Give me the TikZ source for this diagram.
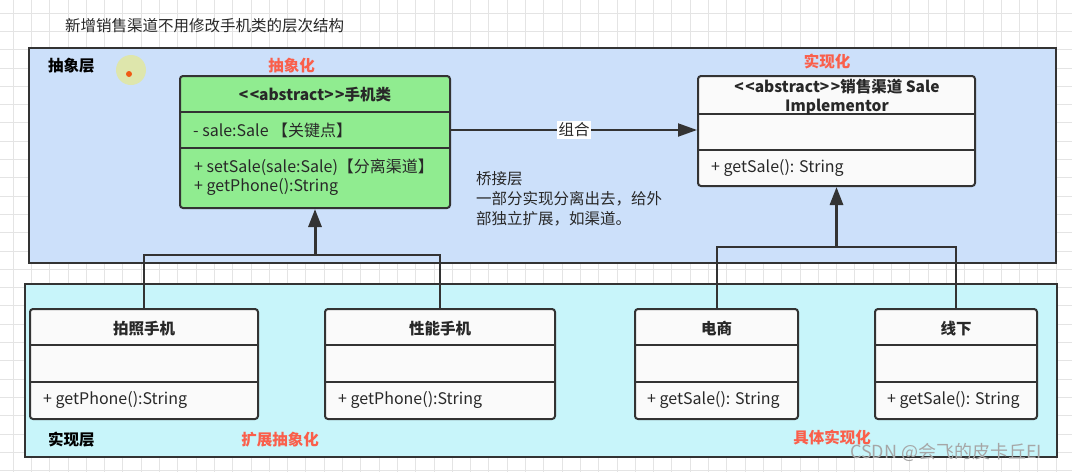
\documentclass[tikz,border=0pt]{standalone}
\usepackage{fontspec}
\setmainfont{Noto Sans CJK SC}
\usetikzlibrary{arrows.meta,calc}
\definecolor{bluebg}{RGB}{204,224,250}
\definecolor{cyanbg}{RGB}{200,245,250}
\definecolor{greenbg}{RGB}{144,236,144}
\definecolor{edge}{RGB}{51,51,51}
\definecolor{redlbl}{RGB}{250,95,75}
\definecolor{gridc}{RGB}{228,228,228}
\definecolor{boxw}{RGB}{250,250,250}
\definecolor{halo}{RGB}{222,230,172}
\definecolor{dotc}{RGB}{240,90,20}
\definecolor{txtc}{RGB}{40,40,40}
\newcommand{\lsym}{{<}\hspace{1.5pt}{<}}
\newcommand{\rsym}{{>}\hspace{1.5pt}{>}}
\begin{document}
\begin{tikzpicture}[x=1pt,y=-1pt,
  layerbox/.style={draw=edge,line width=2pt},
  cls/.style={draw=edge,line width=2pt,rounded corners=3pt,inner sep=0pt},
  sepline/.style={draw=edge,line width=2pt},
  txt/.style={inner sep=0pt,font=\fontsize{16}{18}\selectfont,text=txtc},
  ttl/.style={inner sep=0pt,font=\fontsize{15.5}{18}\selectfont\bfseries,text=txtc},
  lbl/.style={inner sep=0pt,font=\fontsize{15.5}{18}\selectfont\bfseries,text=black},
  redl/.style={inner sep=0pt,font=\fontsize{15.5}{18}\selectfont\bfseries,text=redlbl},
  conn/.style={draw=edge,line width=2pt},
  inh/.style={draw=edge,line width=3pt,-{Triangle[length=18pt,width=13pt]}},
  comp/.style={draw=edge,line width=2pt,-{Triangle[length=19pt,width=13pt]}}
]
\useasboundingbox (0,0) rectangle (1072,472);
\fill[white] (0,0) rectangle (1072,472);
% grid
\foreach \i in {0,...,58}{\draw[gridc,line width=0.8pt] ({13+18.3*\i},0) -- ({13+18.3*\i},472);}
\foreach \i in {0,...,25}{\draw[gridc,line width=0.8pt] (0,{13+18.3*\i}) -- (1072,{13+18.3*\i});}

% title
\node[inner sep=0pt,anchor=west,font=\fontsize{15.5}{18}\selectfont,text=txtc] (title) at (65,26) {新增销售渠道不用修改手机类的层次结构};

% layers
\node[layerbox,fill=bluebg,minimum width=1027pt,minimum height=215pt,inner sep=0pt] (abslayer) at (542.5,155.5) {};
\node[layerbox,fill=cyanbg,minimum width=1032pt,minimum height=173pt,inner sep=0pt] (implayer) at (541,370.5) {};

\node[lbl,anchor=west] (absname) at (48,66) {抽象层};
\node[lbl,anchor=west] (impname) at (48,440) {实现层};
\fill[halo] (131,70) circle (15);
\fill[dotc] (129,74) circle (3);

\node[redl] (r1) at (291.5,66) {抽象化};
\node[redl] (r2) at (827,61) {实现化};
\node[redl] (r3) at (280,440) {扩展抽象化};
\node[redl] (r4) at (832,437) {具体实现化};

% bridge text
\node[inner sep=0pt,anchor=north west,align=left,font=\fontsize{15.5}{20}\selectfont,text=txtc] (bridge) at (476,171) {桥接层\\一部分实现分离出去，给外\\部独立扩展，如渠道。};

% classes
\node[cls,fill=greenbg,minimum width=270pt,minimum height=132pt] (phone) at (315,142) {};
\draw[sepline] (phone.west |- 0,112) -- (phone.east |- 0,112);
\draw[sepline] (phone.west |- 0,148) -- (phone.east |- 0,148);
\node[ttl] (phoneT) at (315,95) {\lsym abstract\rsym 手机类};
\node[txt,anchor=west] (phoneA) at (193,130) {- sale:Sale 【关键点】};
\node[txt,anchor=west] (phoneM1) at (194,167) {+ setSale(sale:Sale)【分离渠道】};
\node[txt,anchor=west] (phoneM2) at (194,187) {+ getPhone():String};

\node[cls,fill=boxw,minimum width=277pt,minimum height=110pt] (impl) at (836.5,131) {};
\draw[sepline] (impl.west |- 0,114) -- (impl.east |- 0,114);
\draw[sepline] (impl.west |- 0,150) -- (impl.east |- 0,150);
\node[ttl,align=center,font=\fontsize{15.5}{19}\selectfont\bfseries] (implT) at (837,96.5) {\lsym abstract\rsym 销售渠道 Sale\\Implementor};
\node[txt,anchor=west] (implM) at (711,168) {+ getSale(): String};

\node[cls,fill=boxw,minimum width=228pt,minimum height=110pt] (photo) at (144,364) {};
\draw[sepline] (photo.west |- 0,345) -- (photo.east |- 0,345);
\draw[sepline] (photo.west |- 0,382) -- (photo.east |- 0,382);
\node[ttl] (photoT) at (144,329) {拍照手机};
\node[txt,anchor=west] (photoM) at (43,400) {+ getPhone():String};

\node[cls,fill=boxw,minimum width=230pt,minimum height=110pt] (perf) at (440,364) {};
\draw[sepline] (perf.west |- 0,345) -- (perf.east |- 0,345);
\draw[sepline] (perf.west |- 0,382) -- (perf.east |- 0,382);
\node[ttl] (perfT) at (440,329) {性能手机};
\node[txt,anchor=west] (perfM) at (338,400) {+ getPhone():String};

\node[cls,fill=boxw,minimum width=163pt,minimum height=110pt] (ecom) at (716.5,364) {};
\draw[sepline] (ecom.west |- 0,345) -- (ecom.east |- 0,345);
\draw[sepline] (ecom.west |- 0,382) -- (ecom.east |- 0,382);
\node[ttl] (ecomT) at (716.5,329) {电商};
\node[txt,anchor=west] (ecomM) at (647,400) {+ getSale(): String};

\node[cls,fill=boxw,minimum width=162pt,minimum height=110pt] (offl) at (956,364) {};
\draw[sepline] (offl.west |- 0,345) -- (offl.east |- 0,345);
\draw[sepline] (offl.west |- 0,382) -- (offl.east |- 0,382);
\node[ttl] (offlT) at (956,329) {线下};
\node[txt,anchor=west] (offlM) at (887,400) {+ getSale(): String};

% connectors
\coordinate (cs) at ([yshift=12pt]phone.east);
\draw[comp] (cs) -- (cs -| impl.west) node[pos=0.5,fill=white,inner sep=1.5pt,font=\fontsize{15.5}{18}\selectfont,text=txtc] (lblcomb) {组合};

\coordinate (jA) at (315,255);
\draw[conn] (photo.north) |- (jA) -| (perf.north);
\draw[inh] (jA) -- (phone.south);

\coordinate (jB) at (836.5,247);
\draw[conn] (ecom.north) |- (jB) -| (offl.north);
\draw[inh] (jB) -- (impl.south);

% watermark
\node[inner sep=0pt,anchor=west,font=\fontsize{18}{20}\selectfont,text=black!35] (wm) at (850,452) {CSDN @会飞的皮卡丘EI};
\end{tikzpicture}
\end{document}
